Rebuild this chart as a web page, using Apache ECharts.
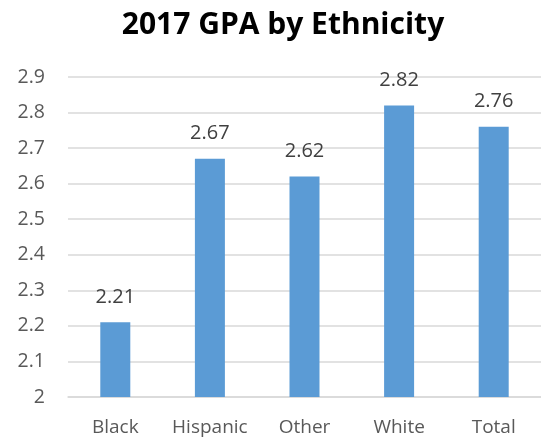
<!DOCTYPE html>
<html>
<head>
<meta charset="utf-8">
<script src="https://cdn.jsdelivr.net/npm/echarts@6/dist/echarts.min.js"></script>
<style>
  html, body { margin: 0; padding: 0; background: #fff; }
  #chart { width: 541px; height: 442px; }
</style>
</head>
<body>
<div id="chart"></div>
<script>
// Average GPA by ethnicity, 2017
const categories = ['Black', 'Hispanic', 'Other', 'White', 'Total'];
const gpaValues = [2.21, 2.67, 2.62, 2.82, 2.76];
const titleText = '2017 GPA by Ethnicity';

const chart = echarts.init(document.getElementById('chart'), null, { renderer: 'canvas' });
const labelFont = 'Open Sans, Noto Sans, sans-serif';

chart.setOption({
  animation: false,
  backgroundColor: '#ffffff',
  title: {
    text: titleText,
    left: 278,
    textAlign: 'center',
    top: 5,
    textStyle: {
      fontFamily: 'Open Sans, sans-serif',
      fontWeight: 'bold',
      fontSize: 30,
      color: '#000000'
    }
  },
  grid: {
    left: 68,
    right: -4,
    top: 77,
    bottom: 45,
    containLabel: false
  },
  xAxis: {
    type: 'category',
    data: categories,
    axisLine: { show: true, lineStyle: { color: '#d9d9d9', width: 1.5 } },
    axisTick: { show: false },
    axisLabel: {
      interval: 0,
      hideOverlap: false,
      color: '#595959',
      fontFamily: labelFont,
      fontSize: 19,
      margin: 21
    }
  },
  yAxis: {
    type: 'value',
    min: 2,
    max: 2.9,
    interval: 0.1,
    axisLine: { show: false },
    axisTick: { show: false },
    splitLine: { lineStyle: { color: '#d9d9d9', width: 1.5 } },
    axisLabel: {
      color: '#595959',
      fontFamily: labelFont,
      fontSize: 19.5,
      margin: 23,
      formatter: v => String(Math.round(v * 10) / 10)
    }
  },
  series: [{
    type: 'bar',
    data: gpaValues,
    barWidth: 30,
    itemStyle: { color: '#5b9bd5' },
    label: {
      show: true,
      position: 'top',
      distance: 15,
      color: '#404040',
      fontFamily: labelFont,
      fontSize: 20,
      formatter: p => p.value.toFixed(2)
    }
  }]
});
</script>
</body>
</html>
